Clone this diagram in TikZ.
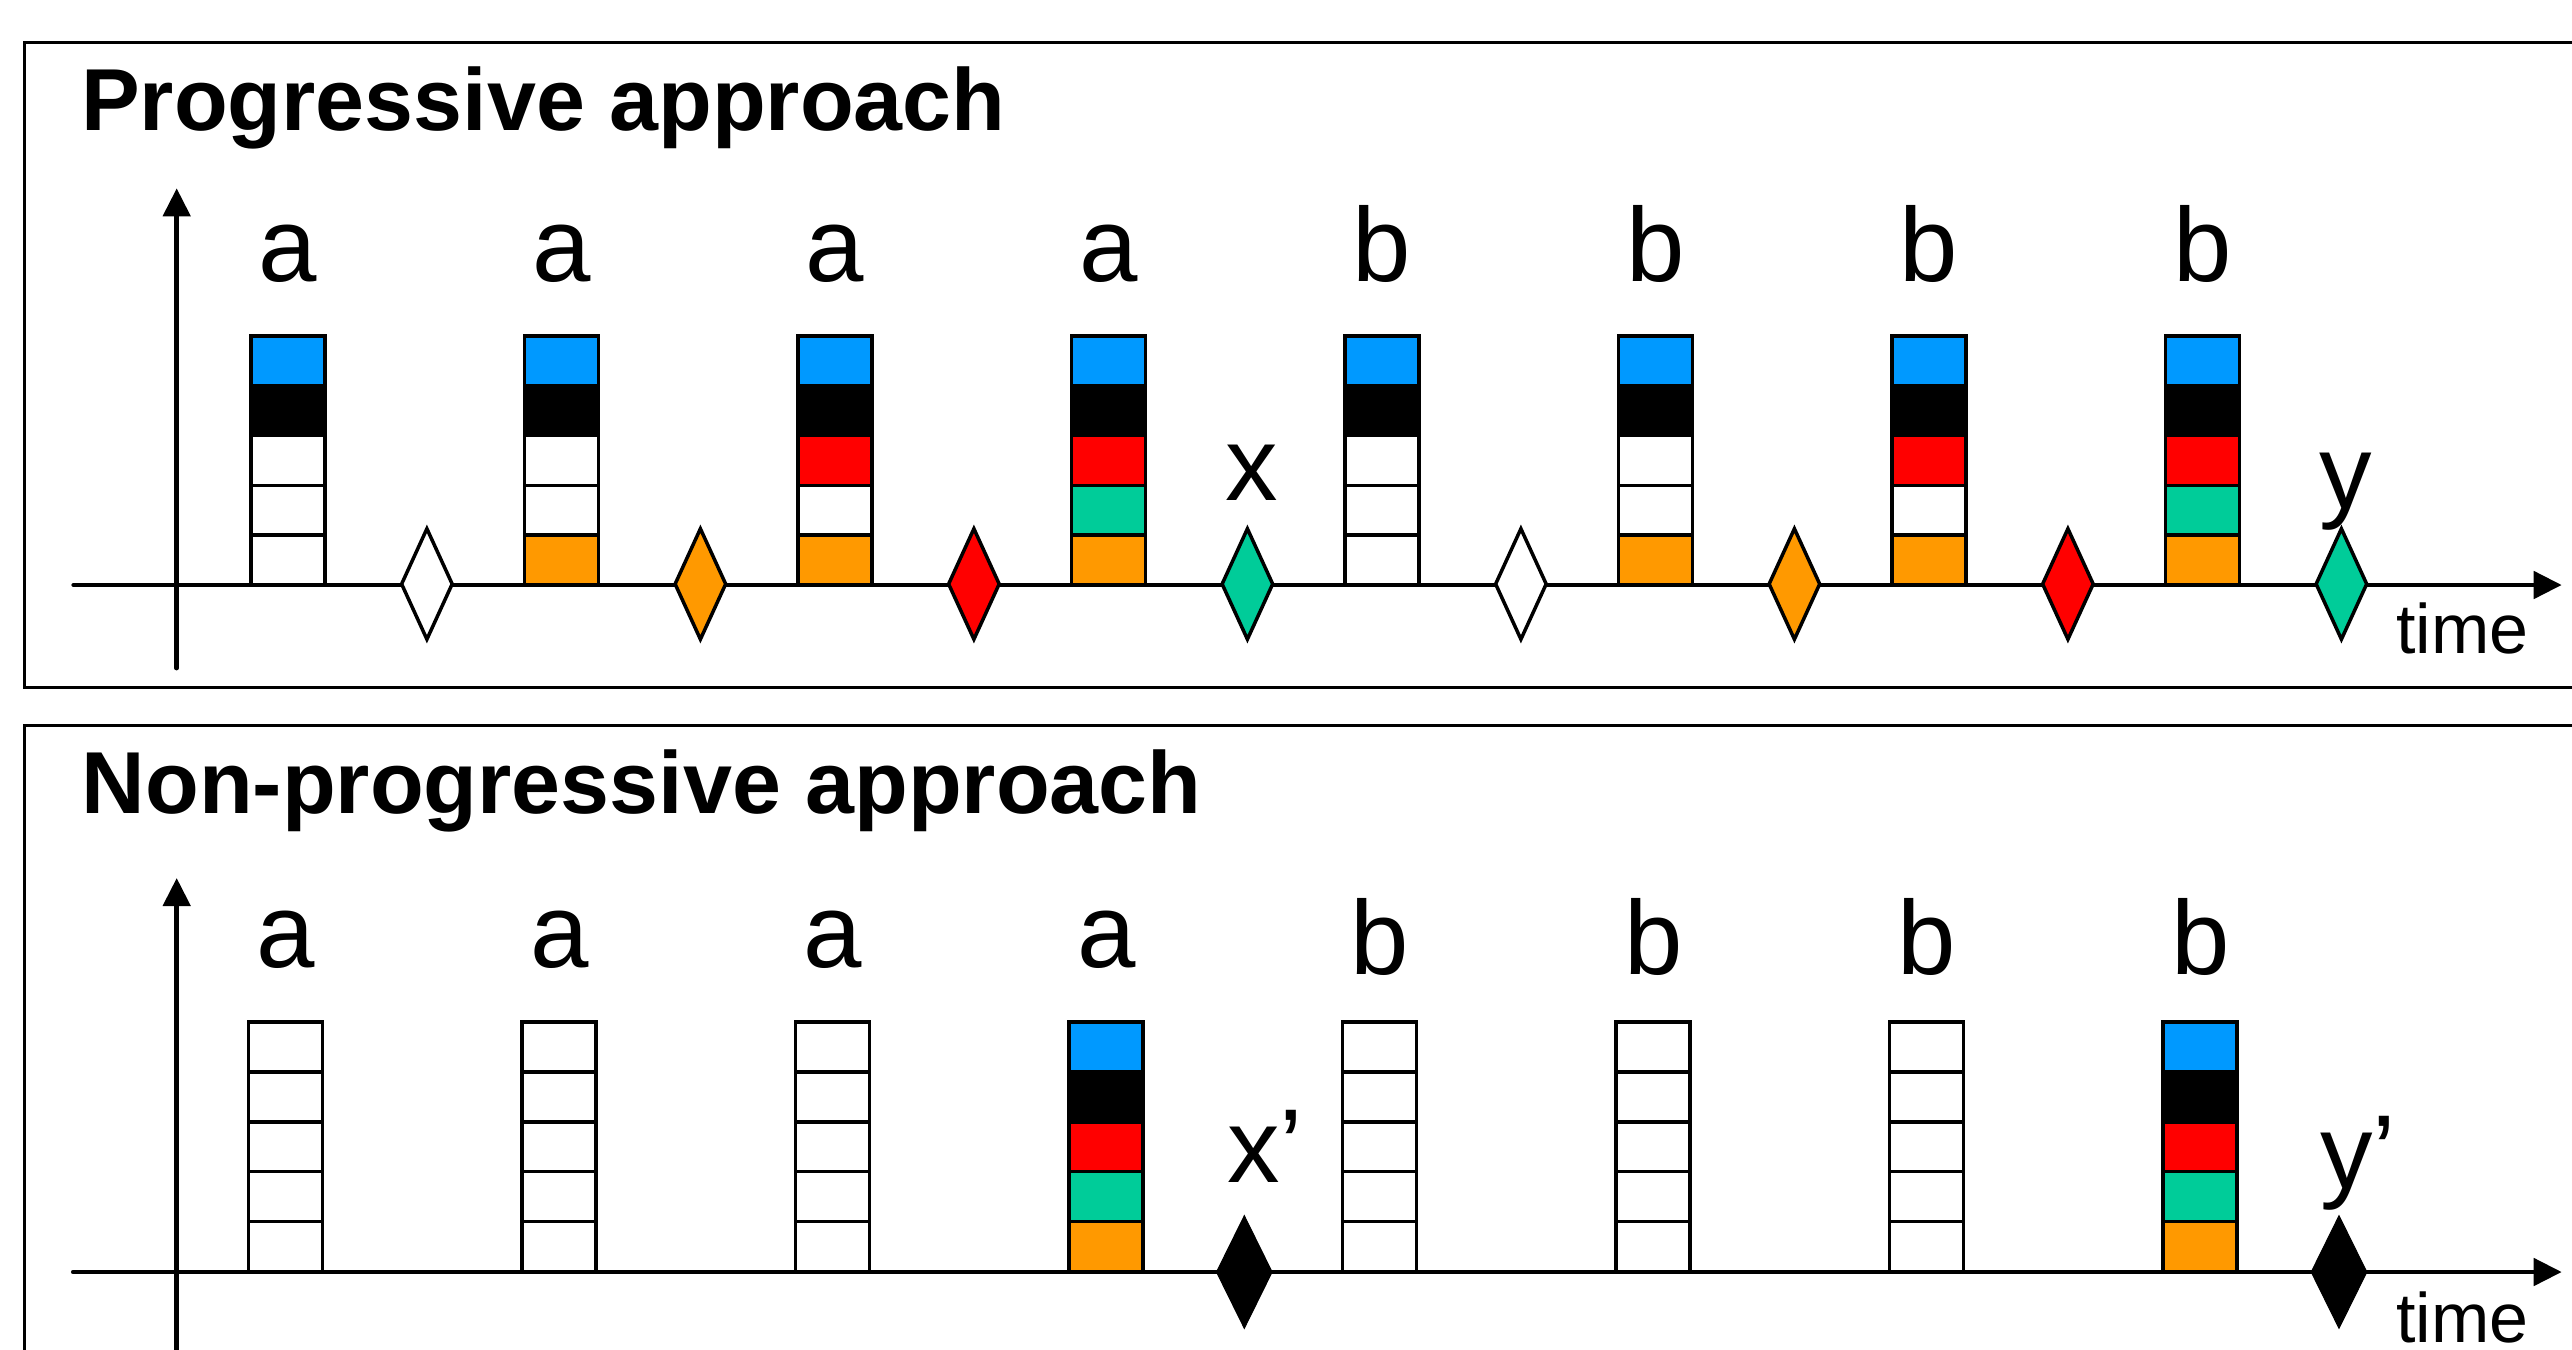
\documentclass[tikz,border=0pt]{standalone}
\usepackage{fontspec}
\setmainfont{Liberation Sans}
\usetikzlibrary{shapes.geometric,arrows.meta}
\definecolor{cblue}{HTML}{0099FF}
\definecolor{cred}{HTML}{FF0000}
\definecolor{cgreen}{HTML}{00CC99}
\definecolor{corange}{HTML}{FF9900}
\begin{document}
\begin{tikzpicture}[x=1pt,y=-1pt,
  cell/.style={draw=black,line width=3.5pt,minimum width=74pt,minimum height=49.8pt,inner sep=0pt,outer sep=0pt,anchor=north west},
  dia/.style={diamond,draw=black,line width=3.5pt,minimum width=52pt,minimum height=112pt,inner sep=0pt},
  bdia/.style={diamond,draw=black,fill=black,line width=1pt,minimum width=56pt,minimum height=113pt,inner sep=0pt},
  axisline/.style={line width=4.8pt,line cap=round},
  tip/.style={-{Triangle[length=28pt,width=27pt]}},
  frame/.style={line width=3pt},
  lbl/.style={anchor=base,inner sep=0pt,font=\fontsize{105}{110}\selectfont},
  plbl/.style={anchor=base west,inner sep=0pt,font=\fontsize{105}{110}\selectfont},
  tlbl/.style={anchor=base west,inner sep=0pt,font=\fontsize{70}{75}\selectfont},
  ttl/.style={anchor=base west,inner sep=0pt,font=\fontsize{88}{92}\selectfont\bfseries}]
\useasboundingbox (0,0) rectangle (2572,1349);
\clip (0,0) rectangle (2572,1349);
\fill[white] (0,0) rectangle (2572,1349);
% frames
\draw[frame] (24.6,42.5) rectangle (2620,687.7);
\draw[frame] (24.5,725) rectangle (2620,1420);
% titles
\node[ttl] (t1) at (81,130.4) {Progressive approach};
\node[ttl] (t2) at (81.5,813.8) {Non-progressive approach};
% axes top
\coordinate (v1b) at (176.7,668);
\coordinate (v1t) at (176.7,188.3);
\coordinate (h1l) at (73.7,585);
\coordinate (h1r) at (2561.7,585);
\draw[axisline,tip] (v1b) -- (v1t);
\draw[axisline,tip] (h1l) -- (h1r);
% axes bottom
\coordinate (v2b) at (176.7,1420);
\coordinate (v2t) at (176.7,878);
\coordinate (h2l) at (73.3,1272);
\coordinate (h2r) at (2561.7,1272);
\draw[axisline,tip] (v2b) -- (v2t);
\draw[axisline,tip] (h2l) -- (h2r);
% top boxes
\foreach [count=\i from 0] \cols in {{white,white,white},{white,white,corange},{cred,white,corange},{cred,cgreen,corange},{white,white,white},{white,white,corange},{cred,white,corange},{cred,cgreen,corange}} {
  \pgfmathsetmacro\L{251+273.5*\i}
  \node[cell,fill=cblue] (p\i-1) at (\L,336) {};
  \node[cell,fill=black] (p\i-2) at (\L,385.8) {};
  \foreach [count=\j from 3] \c in \cols {
    \node[cell,fill=\c] (p\i-\j) at (\L,{336+49.8*(\j-1)}) {};
  }
}
% top labels
\foreach \i in {0,1,2,3} \node[lbl] (pa\i) at ({288+273.5*\i},281) {a};
\foreach \i in {4,5,6,7} \node[lbl] (pb\i) at ({288+273.5*\i},281) {b};
% top diamonds
\foreach [count=\i from 0] \c in {white,corange,cred,cgreen,white,corange,cred,cgreen}
  \node[dia,fill=\c] (d\i) at ({426.9+273.5*\i},584) {};
\node[lbl] (lx) at (1251.6,500) {x};
\node[lbl] (ly) at (2346,508) {y};
\node[tlbl] (time1) at (2396,653) {time};
% bottom boxes
\foreach \i in {0,1,2,4,5,6} {
  \pgfmathsetmacro\L{248.7+273.5*\i}
  \foreach \j in {1,...,5}
    \node[cell,fill=white,minimum height=49.9pt] (q\i-\j) at (\L,{1022+49.9*(\j-1)}) {};
}
\foreach \i in {3,7} {
  \pgfmathsetmacro\L{248.7+273.5*\i}
  \foreach [count=\j] \c in {cblue,black,cred,cgreen,corange}
    \node[cell,fill=\c,minimum height=49.9pt] (q\i-\j) at (\L,{1022+49.9*(\j-1)}) {};
}
\foreach \i in {0,1,2,3} \node[lbl] (qa\i) at ({285.7+273.5*\i},967) {a};
\foreach \i in {4,5,6,7} \node[lbl] (qb\i) at ({285.7+273.5*\i},974) {b};
\node[bdia] (e1) at (1244.3,1272) {};
\node[bdia] (e2) at (2339,1272) {};
\node[plbl] (lxp) at (1227,1182) {x’};
\node[plbl] (lyp) at (2320,1188) {y’};
\node[tlbl] (time2) at (2396,1342) {time};
\end{tikzpicture}
\end{document}
